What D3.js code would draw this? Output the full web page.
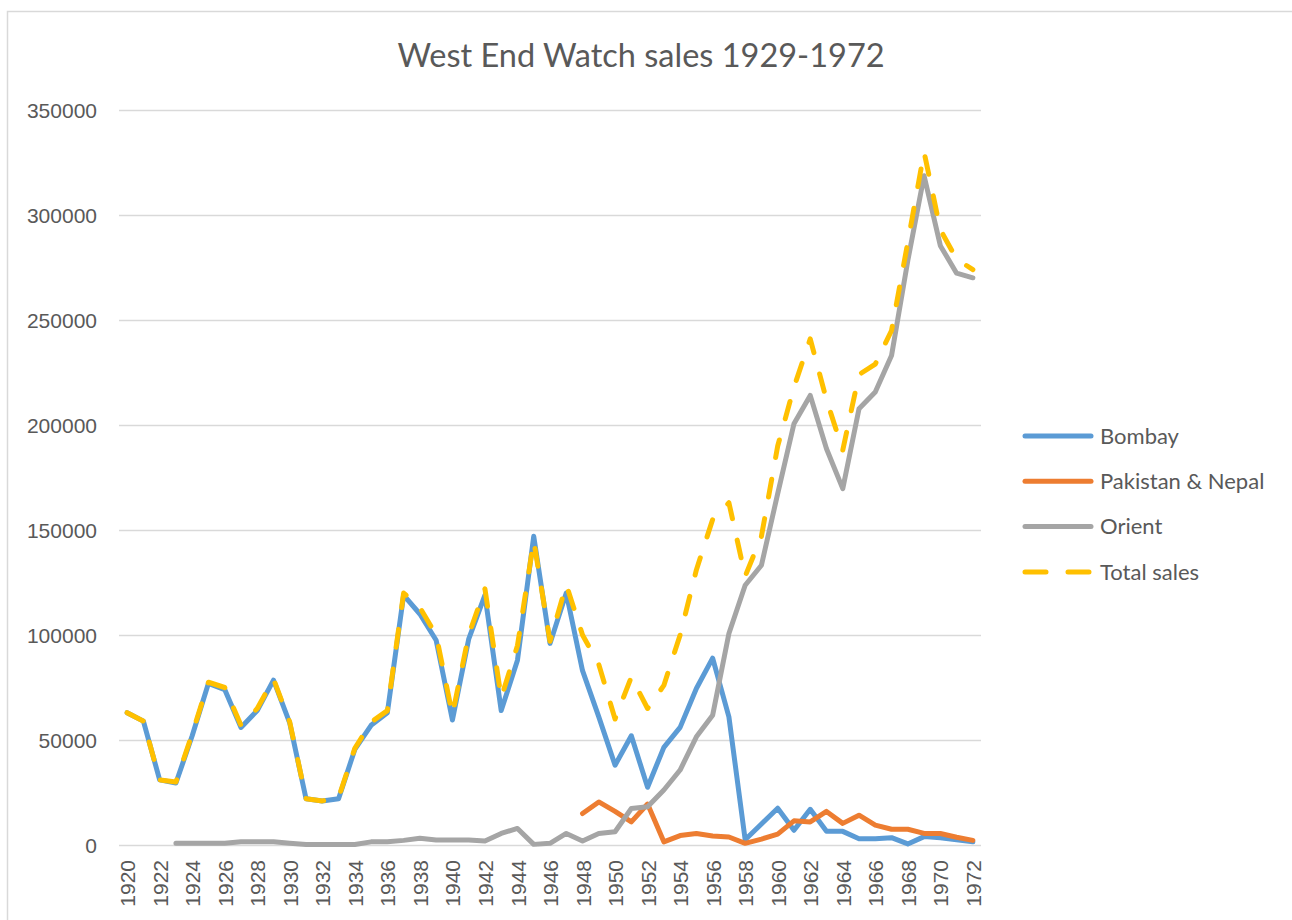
<!DOCTYPE html>
<html>
<head>
<meta charset="utf-8">
<script src="https://cdn.jsdelivr.net/npm/d3@7"></script>
<style>
  html, body { margin: 0; padding: 0; background: #fff; }
  svg { display: block; font-family: Lato, "Noto Sans", sans-serif; }
</style>
</head>
<body>
<svg id="chart" width="1292" height="920"></svg>
<script>
const years = [1920,1921,1922,1923,1924,1925,1926,1927,1928,1929,1930,1931,1932,1933,1934,1935,1936,1937,1938,1939,1940,1941,1942,1943,1944,1945,1946,1947,1948,1949,1950,1951,1952,1953,1954,1955,1956,1957,1958,1959,1960,1961,1962,1963,1964,1965,1966,1967,1968,1969,1970,1971,1972];

const bombay = [63000,59000,31000,29500,52000,77000,74000,56000,64000,78500,58000,22000,21000,22000,45500,57000,63000,119000,110000,97500,59500,98000,119000,64000,88000,147000,96000,120000,83000,61000,38000,52000,27500,46500,56000,74500,89000,61000,2500,10000,17500,7000,17000,6500,6500,3000,3000,3500,500,4000,3500,2500,1500];

const pakistanNepal = [null,null,null,null,null,null,null,null,null,null,null,null,null,null,null,null,null,null,null,null,null,null,null,null,null,null,null,null,15000,20500,16000,11000,19500,1500,4500,5500,4300,3800,800,2800,5200,11500,11000,16000,10300,14200,9500,7500,7500,5500,5500,3700,2200];

const orient = [null,null,null,800,800,800,800,1500,1500,1500,800,200,200,200,200,1500,1500,2200,3200,2400,2400,2400,1900,5500,7900,300,800,5500,1900,5500,6300,17400,18200,26200,35700,51500,61800,100700,123700,133200,167300,200600,214100,188700,169700,207700,215700,233100,278300,318700,285400,272300,270100];

const totalSales = [63000,59000,31000,30000,53000,77500,75000,57000,65000,79000,58500,22000,21000,22500,46000,58500,64000,120000,113000,100000,62000,100000,122000,70000,95000,145000,97000,124000,100000,86000,60000,80000,65000,76000,100000,131000,155000,163000,128000,147000,190000,218000,241000,212000,188000,224000,229000,245000,287000,330000,293000,279000,274000];

const seriesNames = ["Bombay", "Pakistan & Nepal", "Orient", "Total sales"];
const seriesColors = ["#5B9BD5", "#ED7D31", "#A5A5A5", "#FFC000"];
const yTicks = [0,50000,100000,150000,200000,250000,300000,350000];
const xTickLabels = [1920,1922,1924,1926,1928,1930,1932,1934,1936,1938,1940,1942,1944,1946,1948,1950,1952,1954,1956,1958,1960,1962,1964,1966,1968,1970,1972];
const title = "West End Watch sales 1929-1972";

const seriesValues = [bombay, pakistanNepal, orient, totalSales];
const series = seriesNames.map((name, i) => ({
  name, color: seriesColors[i], dashed: name === "Total sales",
  points: years.map((yr, j) => ({ year: yr, value: seriesValues[i][j] }))
}));

const svg = d3.select("#chart");
const textColor = "#595959";
const gridColor = "#D9D9D9";

// chart border
svg.append("rect")
  .attr("x", 7.5).attr("y", 11.5)
  .attr("width", 1400).attr("height", 1000)
  .attr("fill", "none").attr("stroke", gridColor).attr("stroke-width", 1.5);

const plotLeft = 119, plotRight = 981, plotTop = 110, plotBottom = 845;

const x = d3.scalePoint().domain(years).range([plotLeft, plotRight]).padding(0.5);
const y = d3.scaleLinear().domain([0, 350000]).range([plotBottom, plotTop]);

// title
svg.append("text")
  .attr("x", 641).attr("y", 67)
  .attr("text-anchor", "middle")
  .attr("fill", textColor)
  .style("font-size", "32.5px")
  .text(title);

// gridlines
const grid = svg.append("g").attr("transform", `translate(${plotLeft},0)`)
  .call(d3.axisLeft(y).tickValues(yTicks).tickSize(-(plotRight - plotLeft)).tickFormat(""));
grid.select(".domain").remove();
grid.selectAll("line").attr("stroke", gridColor).attr("stroke-width", 1.5);

// y axis labels
const yAxis = svg.append("g").attr("transform", `translate(${plotLeft},0)`)
  .call(d3.axisLeft(y).tickValues(yTicks).tickSize(0).tickPadding(22).tickFormat(d3.format("d")));
yAxis.select(".domain").remove();
yAxis.selectAll("text").attr("fill", textColor).style("font-size", "21px").attr("dy", "0.35em");

// x axis labels
const xAxis = svg.append("g").attr("transform", `translate(0,${plotBottom})`)
  .call(d3.axisBottom(x).tickValues(xTickLabels).tickSize(0));
xAxis.select(".domain").remove();
xAxis.selectAll("text")
  .attr("transform", "rotate(-90)")
  .attr("x", -15).attr("y", 0).attr("dy", "0.36em")
  .attr("text-anchor", "end")
  .attr("fill", textColor)
  .style("font-size", "21px");

// lines
const line = d3.line()
  .defined(d => d.value !== null)
  .x(d => x(d.year))
  .y(d => y(d.value));

svg.append("g").selectAll("path")
  .data(series)
  .join("path")
  .attr("d", d => line(d.points))
  .attr("fill", "none")
  .attr("stroke", d => d.color)
  .attr("stroke-width", 5)
  .attr("stroke-linejoin", "round")
  .attr("stroke-linecap", "round")
  .attr("stroke-dasharray", d => d.dashed ? "18,22" : null);

// legend
const legend = svg.append("g").attr("transform", "translate(1023,436)");
const item = legend.selectAll("g")
  .data(series)
  .join("g")
  .attr("transform", (d, i) => `translate(0,${i * 45.3})`);
item.append("line")
  .attr("x1", 2).attr("x2", 68).attr("y1", 0).attr("y2", 0)
  .attr("stroke", d => d.color)
  .attr("stroke-width", 5)
  .attr("stroke-linecap", "round")
  .attr("stroke-dasharray", d => d.dashed ? "21,22" : null);
item.append("text")
  .attr("x", 77).attr("y", 0).attr("dy", "0.35em")
  .attr("fill", textColor)
  .style("font-size", "22px")
  .text(d => d.name);
</script>
</body>
</html>
